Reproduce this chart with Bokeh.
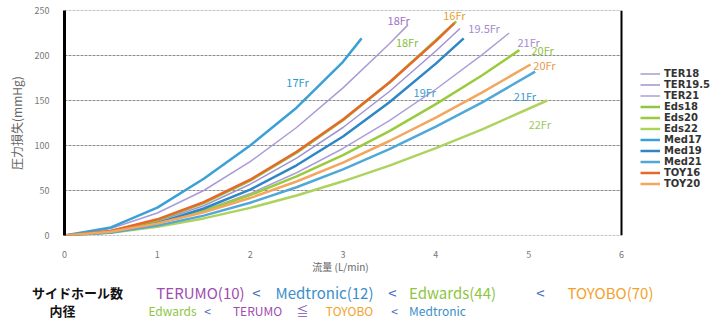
from bokeh.plotting import figure
from bokeh.models import Range1d, Legend, LegendItem, FixedTicker, Span
from bokeh.layouts import column
from bokeh.embed import file_html
from bokeh.resources import INLINE
from bokeh.core.properties import value

FONT = "Noto Sans CJK JP"

# ---- data (flow L/min -> pressure loss mmHg) ----
ter18_q = [0, 0.5, 1, 1.5, 2, 2.5, 3, 3.5, 3.7]
ter18_p = [0, 7.8, 25, 50, 82, 120, 164, 213, 234]
ter195_q = [0, 0.5, 1, 1.5, 2, 2.5, 3, 3.5, 4, 4.26]
ter195_p = [0, 4.4, 15.8, 33, 57, 86, 120, 160, 205, 230]
ter21_q = [0, 0.5, 1, 1.5, 2, 2.5, 3, 3.5, 4, 4.5, 4.79]
ter21_p = [0, 3.8, 13.4, 27.7, 46.6, 69.7, 96.7, 127.7, 162.5, 201, 225]
eds18_q = [0, 0.5, 1, 1.5, 2, 2.5, 3, 3.5, 4, 4.22]
eds18_p = [0, 5, 17, 36, 61, 92, 128, 170, 217, 238]
eds20_q = [0, 0.5, 1, 1.5, 2, 2.5, 3, 3.5, 4, 4.5, 4.9]
eds20_p = [0, 4.3, 13.8, 27.5, 44.9, 65.6, 89.3, 116, 146, 178, 206]
eds22_q = [0, 0.5, 1, 1.5, 2, 2.5, 3, 3.5, 4, 4.5, 5.2]
eds22_p = [0, 3.1, 9.7, 19.0, 30.7, 44.5, 60.2, 77.7, 97, 118, 150]
med17_q = [0, 0.5, 1, 1.5, 2, 2.5, 3, 3.2]
med17_p = [0, 9, 31, 63, 100, 142, 193, 219]
med19_q = [0, 0.5, 1, 1.5, 2, 2.5, 3, 3.5, 4, 4.3]
med19_p = [0, 3.7, 13.7, 30, 51, 78, 110, 148, 191, 219]
med21_q = [0, 0.5, 1, 1.5, 2, 2.5, 3, 3.5, 4, 4.5, 5.07]
med21_p = [0, 3.3, 11, 22.1, 36.4, 53.6, 73.5, 96, 121, 148, 182]
toy16_q = [0, 0.5, 1, 1.5, 2, 2.5, 3, 3.5, 4, 4.2]
toy16_p = [0, 5, 18, 37, 62, 93, 129, 170, 216, 236]
toy20_q = [0, 0.5, 1, 1.5, 2, 2.5, 3, 3.5, 4, 4.5, 5.02]
toy20_p = [0, 4.2, 13.3, 25.9, 41.6, 60, 81, 105, 131, 159, 190]

series_names = ["TER18", "TER19.5", "TER21", "Eds18", "Eds20", "Eds22",
                "Med17", "Med19", "Med21", "TOY16", "TOY20"]
series_q = [ter18_q, ter195_q, ter21_q, eds18_q, eds20_q, eds22_q,
            med17_q, med19_q, med21_q, toy16_q, toy20_q]
series_p = [ter18_p, ter195_p, ter21_p, eds18_p, eds20_p, eds22_p,
            med17_p, med19_p, med21_p, toy16_p, toy20_p]
series_colors = ["#a99bd5", "#a392d0", "#ab9fd8", "#8dc63f", "#9acb3c", "#add35e",
                 "#3aa0d5", "#2e86c4", "#4fa8d8", "#e8682a", "#f2a65e"]
series_widths = [1.5, 1.5, 1.5, 2.5, 2.5, 2.5, 2.5, 2.5, 2.5, 2.5, 2.5]

y_ticks = [0, 50, 100, 150, 200, 250]
x_ticks = [0, 1, 2, 3, 4, 5, 6]
x_max = 6

# in-chart size labels
lab_text = ["17Fr", "18Fr", "16Fr", "19.5Fr", "18Fr", "21Fr", "20Fr", "20Fr", "19Fr", "21Fr", "22Fr"]
lab_q = [2.51, 3.60, 4.20, 4.52, 3.69, 5.00, 5.15, 5.17, 3.88, 4.96, 5.12]
lab_p = [171, 239, 245, 231, 215, 215, 206, 190, 159, 155, 124]
lab_colors = ["#2a9bd0", "#a070c8", "#e8a030", "#a58bd0", "#88c040", "#a58bd0",
              "#90c040", "#e89a50", "#3a9ad0", "#3a9ad0", "#a0c860"]

# notes below the chart
note_text = ["サイドホール数", "内径",
             "TERUMO(10)", "<", "Medtronic(12)", "<", "Edwards(44)", "<", "TOYOBO(70)",
             "Edwards", "<", "TERUMO", "≦", "TOYOBO", "<", "Medtronic"]
note_row = [0, 1, 0, 0, 0, 0, 0, 0, 0, 1, 1, 1, 1, 1, 1, 1]
note_colors = ["#111111", "#111111",
               "#a04cb0", "#4a6cc0", "#3b8fc8", "#4a6cc0", "#8dc63f", "#4a6cc0", "#f2a22a",
               "#8dc63f", "#4a6cc0", "#a04cb0", "#8050b0", "#f2a22a", "#4a6cc0", "#3b8fc8"]

# ---------------- main chart ----------------
W = 725
H_MAIN = 260
H_NOTE = 65
frame_left = 64
frame_right_at_6 = 621
px_per_unit = (frame_right_at_6 - frame_left) / x_max
x_end = (W - frame_left) / px_per_unit

p = figure(width=W, height=H_MAIN, x_range=Range1d(0, x_end), y_range=Range1d(0, 250),
           output_backend="svg", toolbar_location=None,
           min_border_left=frame_left, min_border_right=0, min_border_top=10, min_border_bottom=21)
p.frame_align = False
p.background_fill_color = "white"
p.border_fill_color = "white"
p.outline_line_color = None
p.xgrid.grid_line_color = None
p.ygrid.grid_line_color = None

# horizontal grid lines stopping at the right border
p.segment(x0=[0] * len(y_ticks), y0=y_ticks, x1=[x_max] * len(y_ticks), y1=y_ticks,
          line_color="#8c8c8c", line_width=1, line_dash="3 1")
p.add_layout(Span(location=x_max, dimension="height", line_color="black", line_width=2))

items = []
for name, q, pr, c, w in zip(series_names, series_q, series_p, series_colors, series_widths):
    r = p.line(q, pr, line_color=c, line_width=w)
    items.append(LegendItem(label=name, renderers=[r]))

p.text(lab_q, lab_p, text=lab_text, text_color=lab_colors, text_font=value(FONT),
       text_font_size="11px", text_align="center", text_baseline="middle")

p.yaxis.ticker = FixedTicker(ticks=y_ticks)
p.xaxis.ticker = FixedTicker(ticks=x_ticks)
for ax in (p.xaxis[0], p.yaxis[0]):
    ax.major_tick_line_color = None
    ax.minor_tick_line_color = None
    ax.major_label_text_font_size = "9px"
    ax.major_label_text_color = "#777777"
    ax.major_label_text_font = FONT
p.yaxis.axis_line_color = "black"
p.yaxis.axis_line_width = 3
p.yaxis.major_label_standoff = 9
p.yaxis.axis_label = "圧力損失(mmHg)"
p.yaxis.axis_label_text_font = FONT
p.yaxis.axis_label_text_font_size = "12px"
p.yaxis.axis_label_text_font_style = "normal"
p.yaxis.axis_label_text_color = "#666666"
p.yaxis.axis_label_standoff = 7
p.xaxis.axis_line_color = None
p.xaxis.major_label_standoff = 9

legend = Legend(items=items, location=(576, 46), margin=0, padding=0, spacing=0,
                glyph_width=20, glyph_height=11, label_height=11, label_standoff=4,
                label_text_font="DejaVu Sans", label_text_font_size="10px",
                label_text_font_style="bold", label_text_color="#333333",
                border_line_color=None, background_fill_alpha=0)
p.add_layout(legend, "center")

# ---------------- x title + notes below ----------------
b = figure(width=W, height=H_NOTE, x_range=Range1d(0, W), y_range=Range1d(H_NOTE, 0),
           output_backend="svg", toolbar_location=None, x_axis_type=None, y_axis_type=None,
           min_border=0)
b.frame_align = False
b.outline_line_color = None
b.xgrid.grid_line_color = None
b.ygrid.grid_line_color = None

b.text([340], [6], text=["流量 (L/min)"], text_color="#666666", text_font=value(FONT),
       text_font_size="10px", text_align="center", text_baseline="middle")

note_x = [77, 62, 200, 256, 324, 392, 452, 540, 610, 172, 207, 257, 302, 349, 394, 437]
row_y = [32, 50]
note_y = [row_y[r] for r in note_row]
sizes = ["13px", "13px", "15px", "15px", "15px", "15px", "15px", "15px", "15px",
         "12px", "12px", "12px", "12px", "12px", "12px", "12px"]
styles = ["bold", "bold"] + ["normal"] * 14
for t, x, y, c, s, st in zip(note_text, note_x, note_y, note_colors, sizes, styles):
    b.text([x], [y], text=[t], text_color=c, text_font=value(FONT), text_font_size=s,
           text_font_style=st, text_align="center", text_baseline="middle")

layout = column(p, b, spacing=0)
open("out.html", "w").write(file_html(layout, INLINE))
